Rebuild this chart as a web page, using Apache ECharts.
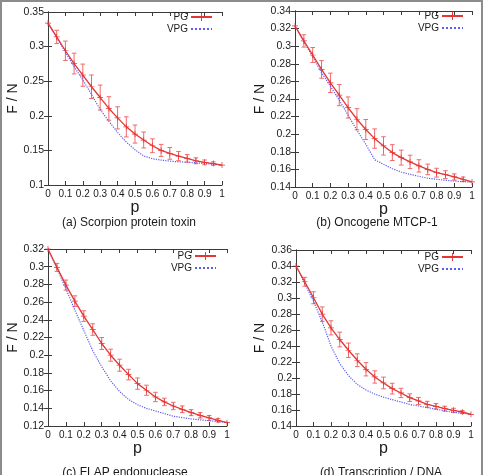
<!DOCTYPE html>
<html><head><meta charset="utf-8">
<script src="https://cdn.jsdelivr.net/npm/echarts@6/dist/echarts.min.js"></script>
<style>html,body{margin:0;padding:0;background:#fff}#c{width:483px;height:475px}</style>
</head><body><div id="c"></div>
<script>
const pVals = [0,0.05,0.1,0.15,0.2,0.25,0.3,0.35,0.4,0.45,0.5,0.55,0.6,0.65,0.7,0.75,0.8,0.85,0.9,0.95,1];
const xTickLabels = ['0','0.1','0.2','0.3','0.4','0.5','0.6','0.7','0.8','0.9','1'];

const PG_A  = [0.334,0.314,0.294,0.2755,0.2587,0.242,0.2264,0.2106,0.197,0.184,0.1736,0.165,0.1567,0.150,0.1457,0.1418,0.1385,0.135,0.1327,0.131,0.1288];
const ERR_A = [0,0.0096,0.014,0.015,0.016,0.017,0.018,0.017,0.016,0.0145,0.013,0.0115,0.010,0.0087,0.0085,0.0067,0.0055,0.0043,0.0034,0.0025,0];
const VPG_A = [0.334,0.313,0.292,0.271,0.252,0.231,0.209,0.192,0.176,0.162,0.151,0.142,0.138,0.136,0.1345,0.1335,0.133,0.132,0.131,0.130,0.1288];
const yTicksA = ['0.1','0.15','0.2','0.25','0.3','0.35'];

const PG_B  = [0.323,0.306,0.29,0.2736,0.2584,0.2444,0.2303,0.217,0.2053,0.195,0.1867,0.1791,0.1734,0.1685,0.164,0.160,0.1563,0.154,0.1514,0.1488,0.1457];
const ERR_B = [0,0.007,0.0085,0.01,0.011,0.012,0.012,0.012,0.0114,0.011,0.0104,0.009,0.0085,0.0076,0.007,0.006,0.005,0.0045,0.0035,0.0025,0];
const VPG_B = [0.323,0.305,0.288,0.270,0.2546,0.2387,0.2216,0.2045,0.1886,0.171,0.1658,0.1608,0.157,0.1544,0.1521,0.150,0.1488,0.1476,0.1468,0.146,0.1457];
const yTicksB = ['0.14','0.16','0.18','0.2','0.22','0.24','0.26','0.28','0.3','0.32','0.34'];

const PG_C  = [0.32,0.2992,0.2792,0.2611,0.2442,0.229,0.2132,0.20,0.1887,0.1781,0.1679,0.1604,0.1528,0.1472,0.1426,0.1389,0.1351,0.1321,0.1291,0.1264,0.1238];
const ERR_C = [0,0.0045,0.0057,0.006,0.006,0.0065,0.0068,0.0068,0.0068,0.006,0.0064,0.0057,0.0053,0.0042,0.0042,0.0038,0.0034,0.003,0.0028,0.002,0];
const VPG_C = [0.32,0.298,0.275,0.251,0.228,0.205,0.187,0.171,0.159,0.150,0.144,0.140,0.137,0.134,0.131,0.1295,0.128,0.127,0.126,0.125,0.124];
const yTicksC = ['0.12','0.14','0.16','0.18','0.2','0.22','0.24','0.26','0.28','0.3','0.32'];

const PG_D  = [0.34,0.3203,0.3003,0.2798,0.2627,0.2481,0.2347,0.2222,0.2109,0.2013,0.1938,0.1867,0.1813,0.1754,0.1713,0.1671,0.1646,0.1617,0.1596,0.1575,0.1546];
const ERR_D = [0,0.0055,0.0075,0.009,0.0088,0.0092,0.009,0.008,0.0083,0.0077,0.0073,0.0067,0.0058,0.0048,0.0044,0.0038,0.0035,0.003,0.0025,0.0017,0];
const VPG_D = [0.34,0.318,0.296,0.270,0.240,0.218,0.203,0.192,0.185,0.180,0.176,0.173,0.170,0.167,0.165,0.163,0.161,0.159,0.157,0.156,0.1546];
const yTicksD = ['0.14','0.16','0.18','0.2','0.22','0.24','0.26','0.28','0.3','0.32','0.34','0.36'];

const captions = ['(a) Scorpion protein toxin','(b) Oncogene MTCP-1','(c) FLAP endonuclease','(d) Transcription / DNA'];

const panels = [
  {pg:PG_A, err:ERR_A, vpg:VPG_A, ticks:yTicksA, grid:{left:48,top:12,width:174,height:173}, yGap:28, legend:{right:270,top:12}, cap:[129,223]},
  {pg:PG_B, err:ERR_B, vpg:VPG_B, ticks:yTicksB, grid:{left:295,top:11,width:177,height:176}, yGap:26, legend:{right:19,top:11}, cap:[377,223]},
  {pg:PG_C, err:ERR_C, vpg:VPG_C, ticks:yTicksC, grid:{left:48,top:249,width:179,height:177}, yGap:28, legend:{right:266,top:251}, cap:[125,473]},
  {pg:PG_D, err:ERR_D, vpg:VPG_D, ticks:yTicksD, grid:{left:296,top:250,width:175,height:176}, yGap:29, legend:{right:19,top:252}, cap:[381,473]}
];

const RED = '#e53535', ERRC = '#ef6a6a', BLUE = '#5b5bf0', AX = '#3a3a3a', TXT = '#1a1a1a';
const FONT = 'Liberation Sans, Arial, sans-serif';
const crossPath = 'path://M0,4.4H10V5.6H0Z M4.4,0H5.6V10H4.4Z';

const grids = [], xAxes = [], yAxes = [], series = [], legends = [], graphics = [];

graphics.push({type:'rect', shape:{x:1,y:1,width:481,height:480}, style:{fill:'none', stroke:'#8c8c8c', lineWidth:2}, z:100});

function errRender(params, api){
  const x = api.value(0), lo = api.value(1), hi = api.value(2);
  const a = api.coord([x, lo]), b = api.coord([x, hi]);
  const c = 2.3;
  const st = {stroke: ERRC, lineWidth: 1};
  return {type:'group', children:[
    {type:'line', shape:{x1:a[0],y1:a[1],x2:b[0],y2:b[1]}, style:st},
    {type:'line', shape:{x1:a[0]-c,y1:a[1],x2:a[0]+c,y2:a[1]}, style:st},
    {type:'line', shape:{x1:b[0]-c,y1:b[1],x2:b[0]+c,y2:b[1]}, style:st}
  ]};
}

panels.forEach((P, k) => {
  grids.push(Object.assign({containLabel:false}, P.grid));
  const ymin = parseFloat(P.ticks[0]), ymax = parseFloat(P.ticks[P.ticks.length-1]);
  const yint = +(parseFloat(P.ticks[1]) - ymin).toFixed(4);
  const tick = {show:true, inside:true, length:4, lineStyle:{color:AX, width:1}};
  const line = {show:true, lineStyle:{color:AX, width:1}};
  xAxes.push({type:'value', gridIndex:k, position:'bottom', min:0, max:1, interval:0.1,
    axisLine:line, axisTick:tick, splitLine:{show:false},
    axisLabel:{margin:4, fontSize:10, color:TXT, fontFamily:FONT, formatter:(v,i)=>xTickLabels[i]},
    name:'p', nameLocation:'middle', nameGap:11, nameTextStyle:{fontSize:16, color:TXT, fontFamily:FONT}});
  xAxes.push({type:'value', gridIndex:k, position:'top', min:0, max:1, interval:0.1,
    axisLine:line, axisTick:tick, splitLine:{show:false}, axisLabel:{show:false}});
  yAxes.push({type:'value', gridIndex:k, position:'left', min:ymin, max:ymax, interval:yint,
    axisLine:line, axisTick:tick, splitLine:{show:false},
    axisLabel:{margin:4, fontSize:10.5, color:TXT, fontFamily:FONT, formatter:(v,i)=>P.ticks[i]},
    name:'F / N', nameLocation:'middle', nameGap:P.yGap, nameRotate:90, nameTextStyle:{fontSize:14, color:TXT, fontFamily:FONT}});
  yAxes.push({type:'value', gridIndex:k, position:'right', min:ymin, max:ymax, interval:yint,
    axisLine:line, axisTick:tick, splitLine:{show:false}, axisLabel:{show:false}});

  const xi = 2*k, yi = 2*k;
  series.push({name:'VPG', type:'line', xAxisIndex:xi, yAxisIndex:yi, showSymbol:false, symbol:'none',
    data:pVals.map((p,i)=>[p,P.vpg[i]]), lineStyle:{color:BLUE, width:1.2, type:'dotted'}, itemStyle:{color:BLUE},
    animation:false, z:3});
  series.push({name:'PGerr', type:'custom', xAxisIndex:xi, yAxisIndex:yi, renderItem:errRender,
    encode:{x:0, y:[1,2]},
    data:pVals.map((p,i)=>[p, P.pg[i]-P.err[i], P.pg[i]+P.err[i]]).filter((d,i)=>P.err[i]>0),
    animation:false, z:2});
  series.push({name:'PG', type:'line', xAxisIndex:xi, yAxisIndex:yi, symbol:crossPath, symbolSize:6, showSymbol:true,
    data:pVals.map((p,i)=>[p,P.pg[i]]), lineStyle:{color:RED, width:1.3}, itemStyle:{color:RED},
    animation:false, z:4});

  legends.push({data:['PG', {name:'VPG', itemStyle:{color:'rgba(0,0,0,0)', opacity:0, borderWidth:0}}],
    orient:'vertical', align:'right', right:P.legend.right, top:P.legend.top,
    itemWidth:21, itemHeight:10, itemGap:2, selectedMode:false, padding:0,
    textStyle:{fontSize:10, color:TXT, fontFamily:FONT, padding:[0,-2,0,0]}});

  graphics.push({type:'text', x:P.cap[0], y:P.cap[1], style:{text:captions[k], textAlign:'center', textVerticalAlign:'middle',
    fontSize:12, fill:TXT, fontFamily:FONT}});
});

const chart = echarts.init(document.getElementById('c'), null, {renderer:'canvas'});
chart.setOption({
  backgroundColor:'#ffffff', animation:false,
  grid:grids, xAxis:xAxes, yAxis:yAxes, series:series, legend:legends, graphic:graphics
});
</script>
</body></html>
